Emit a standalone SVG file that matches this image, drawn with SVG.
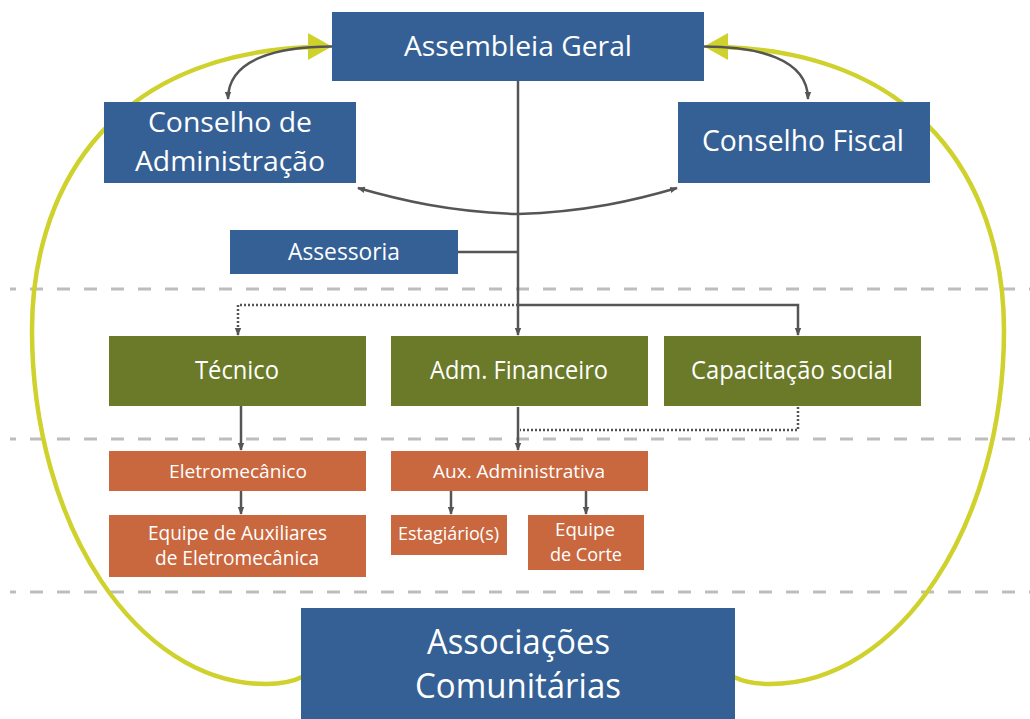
<svg xmlns="http://www.w3.org/2000/svg" width="1030" height="719" viewBox="0 0 1030 719">
<style>
.blue{fill:#356095}
.green{fill:#6a7a28}
.orange{fill:#c9673e}
.t{font-family:"Open Sans","Liberation Sans",sans-serif;fill:#ffffff;text-anchor:middle}
.ln{fill:none;stroke:#555555;stroke-width:2.5}
.dot{fill:none;stroke:#555555;stroke-width:2.5;stroke-dasharray:2 2}
.sep{fill:none;stroke:#bdbdbd;stroke-width:3;stroke-dasharray:13 14;stroke-dashoffset:7}
.yel{fill:none;stroke:#cfd12c;stroke-width:4.5}
.yh{fill:#cfd12c}
</style>
<defs>
<marker id="ah" markerUnits="userSpaceOnUse" markerWidth="8" markerHeight="8" viewBox="0 0 8 8" refX="7" refY="4" orient="auto">
<path d="M0,0.8 L8,4 L0,7.2 Z" fill="#555555"/>
</marker>
</defs>
<rect width="1030" height="719" fill="#ffffff"/>
<g id="separators">
<line class="sep" x1="10" y1="289" x2="1030" y2="289"/>
<line class="sep" x1="10" y1="439" x2="1030" y2="439"/>
<line class="sep" x1="10" y1="592" x2="1030" y2="592"/>
</g>
<g id="loop">
<path class="yel" d="M302,677 C292,682 280,684 266,684 C137,684 32,525 32,330 C32,200 100,55 312,47"/>
<path class="yel" d="M734,677 C744,682 756,684 770,684 C899,684 1004,525 1004,330 C1004,200 936,55 724,47"/>
<polygon class="yh" points="332,46.5 308,33 308,60"/>
<polygon class="yh" points="704,46.5 728,33 728,60"/>
</g>
<g id="assembleia">
<rect class="blue" x="332" y="12" width="372" height="69"/>
<text class="t" x="518" y="56" font-size="28" textLength="228" lengthAdjust="spacingAndGlyphs">Assembleia Geral</text>
</g>
<g id="conselho-adm">
<rect class="blue" x="104" y="102" width="252" height="81"/>
<text class="t" x="230" y="132" font-size="28" textLength="164" lengthAdjust="spacingAndGlyphs">Conselho de</text>
<text class="t" x="230" y="171" font-size="28" textLength="190" lengthAdjust="spacingAndGlyphs">Administração</text>
</g>
<g id="conselho-fiscal">
<rect class="blue" x="678" y="102" width="252" height="81"/>
<text class="t" x="803" y="151" font-size="29" textLength="202" lengthAdjust="spacingAndGlyphs">Conselho Fiscal</text>
</g>
<g id="assessoria">
<rect class="blue" x="230" y="230" width="228" height="44"/>
<text class="t" x="344" y="259.5" font-size="24" textLength="112" lengthAdjust="spacingAndGlyphs">Assessoria</text>
</g>
<g id="tecnico">
<rect class="green" x="109" y="336" width="257" height="70"/>
<text class="t" x="237" y="379" font-size="25" textLength="84" lengthAdjust="spacingAndGlyphs">Técnico</text>
</g>
<g id="adm-financeiro">
<rect class="green" x="391" y="336" width="257" height="70"/>
<text class="t" x="519" y="379" font-size="25" textLength="178" lengthAdjust="spacingAndGlyphs">Adm. Financeiro</text>
</g>
<g id="capacitacao">
<rect class="green" x="664" y="336" width="257" height="70"/>
<text class="t" x="792" y="379" font-size="25" textLength="202" lengthAdjust="spacingAndGlyphs">Capacitação social</text>
</g>
<g id="eletromecanico">
<rect class="orange" x="109" y="451" width="257" height="40"/>
<text class="t" x="238" y="477.5" font-size="19" textLength="138" lengthAdjust="spacingAndGlyphs">Eletromecânico</text>
</g>
<g id="aux-administrativa">
<rect class="orange" x="391" y="451" width="257" height="40"/>
<text class="t" x="519" y="477.5" font-size="19" textLength="172" lengthAdjust="spacingAndGlyphs">Aux. Administrativa</text>
</g>
<g id="equipe-auxiliares">
<rect class="orange" x="109" y="515" width="257" height="62"/>
<text class="t" x="237.5" y="539.5" font-size="20" textLength="179" lengthAdjust="spacingAndGlyphs">Equipe de Auxiliares</text>
<text class="t" x="237" y="565" font-size="20" textLength="164" lengthAdjust="spacingAndGlyphs">de Eletromecânica</text>
</g>
<g id="estagiarios">
<rect class="orange" x="391" y="515" width="116" height="40"/>
<text class="t" x="448.5" y="540" font-size="19" textLength="101" lengthAdjust="spacingAndGlyphs">Estagiário(s)</text>
</g>
<g id="equipe-corte">
<rect class="orange" x="528" y="515" width="116" height="55"/>
<text class="t" x="585" y="536" font-size="19" textLength="60" lengthAdjust="spacingAndGlyphs">Equipe</text>
<text class="t" x="586" y="561" font-size="19" textLength="72" lengthAdjust="spacingAndGlyphs">de Corte</text>
</g>
<g id="associacoes">
<rect class="blue" x="301" y="608" width="434" height="111"/>
<text class="t" x="518.5" y="654" font-size="34" textLength="183" lengthAdjust="spacingAndGlyphs">Associações</text>
<text class="t" x="518" y="698" font-size="34" textLength="206" lengthAdjust="spacingAndGlyphs">Comunitárias</text>
</g>
<g id="connectors">
<path class="ln" d="M332,46.5 C280,46.5 228,58 228,99" marker-end="url(#ah)"/>
<path class="ln" d="M704,46.5 C756,46.5 808,58 808,99" marker-end="url(#ah)"/>
<path class="ln" d="M518,214 C450,212 400,200 358,188" marker-end="url(#ah)"/>
<path class="ln" d="M518,214 C586,212 636,200 677,188" marker-end="url(#ah)"/>
<line class="ln" x1="458" y1="252" x2="518" y2="252"/>
<line class="ln" x1="518" y1="81" x2="518" y2="335" marker-end="url(#ah)"/>
<path class="ln" d="M518,305 L798,305 L798,335" marker-end="url(#ah)"/>
<path class="dot" d="M518,305 L238,305 L238,335" marker-end="url(#ah)"/>
<line class="ln" x1="518" y1="407" x2="518" y2="450" marker-end="url(#ah)"/>
<path class="dot" d="M798,407 L798,430 L520,430"/>
<line class="ln" x1="241" y1="406" x2="241" y2="450" marker-end="url(#ah)"/>
<line class="ln" x1="241" y1="491" x2="241" y2="514" marker-end="url(#ah)"/>
<line class="ln" x1="451" y1="491" x2="451" y2="514" marker-end="url(#ah)"/>
<line class="ln" x1="586" y1="491" x2="586" y2="514" marker-end="url(#ah)"/>
</g>
</svg>
